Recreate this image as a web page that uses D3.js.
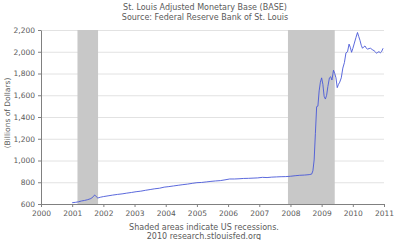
<!DOCTYPE html>
<html>
<head>
<meta charset="utf-8">
<script src="https://cdn.jsdelivr.net/npm/d3@7"></script>
<style>
  html, body { margin: 0; padding: 0; background: #fff; }
  svg { display: block; }
  text { font-family: "DejaVu Sans", Verdana, sans-serif; fill: #5a5a5a; }
</style>
</head>
<body>
<svg id="chart" width="400" height="240"></svg>
<script>
// decimal year and billions of dollars
const years = [
  2001.00, 2001.10, 2001.20, 2001.30, 2001.40, 2001.50, 2001.60, 2001.68, 2001.72, 2001.76,
  2001.82, 2001.90, 2002.00, 2002.15, 2002.30, 2002.45, 2002.60, 2002.75, 2002.90, 2003.05,
  2003.20, 2003.35, 2003.50, 2003.65, 2003.80, 2003.95, 2004.10, 2004.25, 2004.40, 2004.55,
  2004.70, 2004.85, 2005.00, 2005.15, 2005.30, 2005.45, 2005.60, 2005.75, 2005.90, 2006.05,
  2006.20, 2006.35, 2006.50, 2006.65, 2006.80, 2006.95, 2007.10, 2007.25, 2007.40, 2007.55,
  2007.70, 2007.85, 2008.00, 2008.15, 2008.30, 2008.45, 2008.60, 2008.68, 2008.72, 2008.76,
  2008.80, 2008.84, 2008.88, 2008.92, 2008.96, 2009.00, 2009.04, 2009.08, 2009.12, 2009.16,
  2009.20, 2009.25, 2009.29, 2009.33, 2009.38, 2009.42, 2009.46, 2009.50, 2009.54, 2009.58,
  2009.63, 2009.68, 2009.73, 2009.78, 2009.83, 2009.88, 2009.92, 2009.96, 2010.00, 2010.05,
  2010.10, 2010.15, 2010.19, 2010.23, 2010.27, 2010.31, 2010.35, 2010.39, 2010.43, 2010.47,
  2010.52, 2010.57, 2010.62, 2010.68, 2010.72, 2010.76, 2010.80, 2010.84, 2010.88, 2010.92,
  2010.97
];
const base = [
  612, 615, 620, 628, 633, 640, 650, 668, 683, 672,
  655, 662, 668, 675, 682, 688, 693, 700, 706, 713,
  718, 726, 733, 740, 745, 755, 760, 766, 772, 778,
  783, 790, 796, 798, 803, 808, 812, 815, 822, 830,
  830, 832, 835, 836, 838, 840, 845, 843, 847, 849,
  851, 852, 855, 860, 864, 866, 870, 875, 905, 1005,
  1250, 1495, 1500, 1640, 1720, 1760, 1700, 1590, 1565, 1600,
  1680, 1760, 1770, 1740, 1830, 1800, 1760, 1670, 1700, 1720,
  1760, 1850, 1900, 1990, 2000, 2070, 2040, 1995, 2030, 2080,
  2130, 2177, 2140, 2105, 2060, 2032, 2045, 2053, 2035, 2023,
  2030, 2032, 2020, 2010, 2000, 1986, 1995, 2001, 1990, 2000,
  2032
];
// US recessions
const recessions = [[2001.17, 2001.83], [2007.92, 2009.42]];
const xTicks = d3.range(2000, 2012);
const yTicks = d3.range(600, 2201, 200);
const titleLines = ["St. Louis Adjusted Monetary Base (BASE)", "Source: Federal Reserve Bank of St. Louis"];
const noteLines = ["Shaded areas indicate US recessions.", "2010 research.stlouisfed.org"];

const svg = d3.select("#chart");
const margin = { top: 30, right: 16, bottom: 36, left: 41 };
const width = 400, height = 240;
const innerWidth = width - margin.left - margin.right;
const innerHeight = height - margin.top - margin.bottom;

const x = d3.scaleLinear().domain([2000, 2011]).range([0, innerWidth]);
const y = d3.scaleLinear().domain([600, 2200]).range([innerHeight, 0]);

const g = svg.append("g").attr("transform", `translate(${margin.left},${margin.top})`);

// gridlines
g.selectAll(".grid")
  .data(yTicks.slice(1))
  .enter().append("line")
  .attr("x1", 0).attr("x2", innerWidth)
  .attr("y1", d => y(d) + 0.5).attr("y2", d => y(d) + 0.5)
  .attr("stroke", "#e2e2e2");

// recession bars
g.selectAll(".rec")
  .data(recessions)
  .enter().append("rect")
  .attr("x", d => x(d[0]))
  .attr("width", d => x(d[1]) - x(d[0]))
  .attr("y", 0)
  .attr("height", innerHeight)
  .attr("fill", "#c8c8c8");

// line
const line = d3.line().x((d, i) => x(years[i])).y(d => y(d));
g.append("path")
  .datum(base)
  .attr("fill", "none")
  .attr("stroke", "#4858d8")
  .attr("stroke-width", 0.9)
  .attr("d", line);

// axes
const xAxis = g.append("g")
  .attr("transform", `translate(0,${innerHeight})`)
  .call(d3.axisBottom(x).tickValues(xTicks).tickFormat(d3.format("d")).tickSize(3).tickSizeOuter(0));
const yAxis = g.append("g")
  .call(d3.axisLeft(y).tickValues(yTicks).tickFormat(d3.format(",")).tickSize(3).tickSizeOuter(0));
[xAxis, yAxis].forEach(a => {
  a.select(".domain").attr("stroke", "#808080");
  a.selectAll(".tick line").attr("stroke", "#808080");
  a.selectAll("text").attr("font-size", "7.5px").attr("fill", "#5a5a5a")
    .attr("font-family", "DejaVu Sans, sans-serif");
});
xAxis.selectAll("text").attr("dy", "0.85em");

// titles
svg.selectAll(".title")
  .data(titleLines)
  .enter().append("text")
  .attr("x", 205)
  .attr("y", (d, i) => 10 + i * 10)
  .attr("text-anchor", "middle")
  .attr("font-size", "8px")
  .text(d => d);

svg.selectAll(".note")
  .data(noteLines)
  .enter().append("text")
  .attr("x", 204)
  .attr("y", (d, i) => 230 + i * 9)
  .attr("text-anchor", "middle")
  .attr("font-size", "8px")
  .text(d => d);

svg.append("text")
  .attr("transform", "rotate(-90)")
  .attr("x", -113)
  .attr("y", 10)
  .attr("text-anchor", "middle")
  .attr("font-size", "7.5px")
  .text("(Billions of Dollars)");
</script>
</body>
</html>
